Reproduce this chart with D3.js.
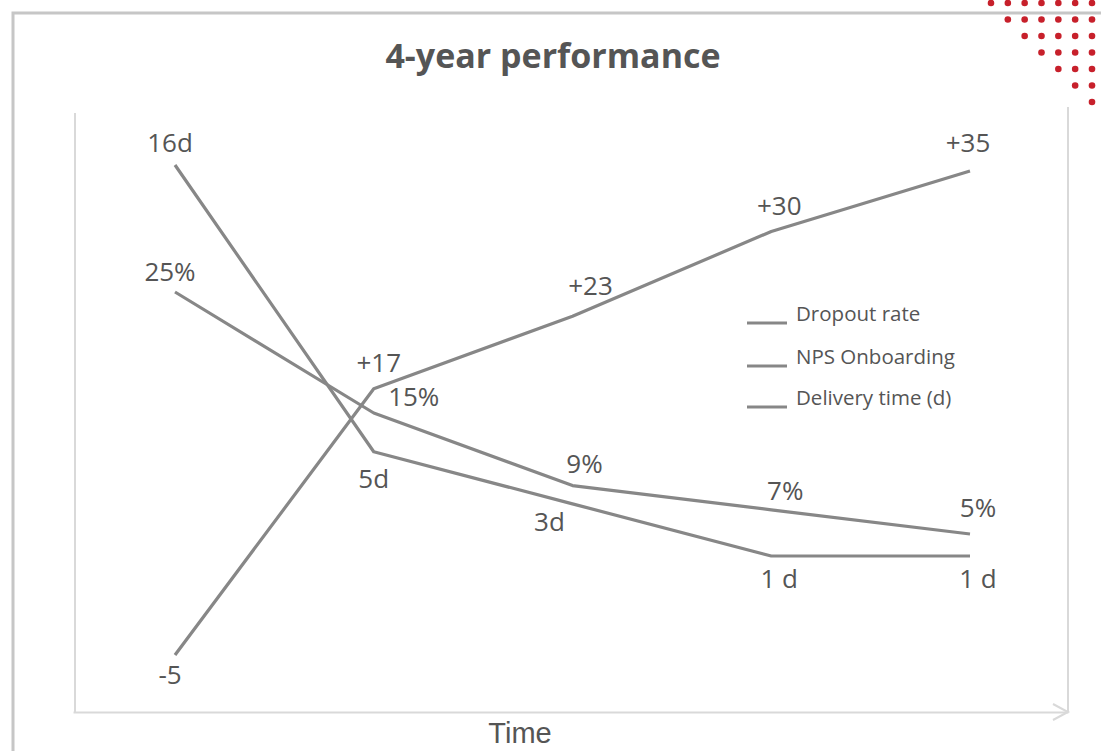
<!DOCTYPE html>
<html>
<head>
<meta charset="utf-8">
<script src="https://cdn.jsdelivr.net/npm/d3@7"></script>
<style>
  html, body { margin: 0; padding: 0; background: #fff; }
  svg { display: block; }
</style>
</head>
<body>
<svg id="chart" width="1101" height="751"></svg>
<script>
// Periods along the time axis (start + four yearly checkpoints)
const periods = ["Start", "Year 1", "Year 2", "Year 3", "Year 4"];

// Series values
const dropoutRate = [25, 15, 9, 7, 5];          // %
const npsOnboarding = [-5, 17, 23, 30, 35];     // NPS points
const deliveryTime = [16, 5, 3, 1, 1];          // days

// Legend entries
const seriesNames = ["Dropout rate", "NPS Onboarding", "Delivery time (d)"];

const W = 1101, H = 751;
const svg = d3.select("#chart");
const textColor = "#555";
const lineColor = "#878787";
const labelFont = "'Open Sans', 'Noto Sans', sans-serif";

// Outer card edge
svg.append("path")
  .attr("d", `M13,${H} L13,13 L${W},13`)
  .attr("fill", "none")
  .attr("stroke", "#c6c6c6")
  .attr("stroke-width", 3);

// Decorative red dot triangle in the top-right corner
const dotCols = d3.range(7), dotRows = d3.range(7);
const dots = [];
dotRows.forEach(r => dotCols.forEach(c => { if (c >= r) dots.push({ r, c }); }));
const dotX = d3.scaleLinear().domain([0, 6]).range([991, 1092]);
const dotY = d3.scaleLinear().domain([0, 6]).range([3, 102]);
svg.append("g").selectAll("circle").data(dots).join("circle")
  .attr("cx", d => dotX(d.c))
  .attr("cy", d => dotY(d.r))
  .attr("r", 3.3)
  .attr("fill", "#c7202b");

// Title
svg.append("text")
  .attr("x", 553).attr("y", 68)
  .attr("text-anchor", "middle")
  .attr("font-family", labelFont)
  .attr("font-weight", 700)
  .attr("font-size", 34)
  .attr("fill", textColor)
  .text("4-year performance");

// Scales: percentages and NPS share one vertical scale, delivery days use their own
const x = d3.scalePoint().domain(periods).range([175, 970]);
const yShared = d3.scaleLinear().domain([-5, 35]).range([655, 171]);
const yDays = d3.scaleLinear().domain([1, 16]).range([556, 165]);

// Plot frame
const frameColor = "#d9d9d9";
const axisScale = d3.scaleLinear().domain([0, 1]).range([73, 1068]);
const axisG = svg.append("g")
  .attr("transform", "translate(0,712)")
  .call(d3.axisBottom(axisScale).tickValues([]).tickSizeOuter(0));
axisG.select(".domain").attr("stroke", frameColor).attr("stroke-width", 2);
svg.append("path")
  .attr("d", "M1053,704 L1068,712 L1053,720")
  .attr("fill", "none").attr("stroke", frameColor).attr("stroke-width", 2);
svg.append("line").attr("x1", 75).attr("x2", 75).attr("y1", 113).attr("y2", 712)
  .attr("stroke", frameColor).attr("stroke-width", 2);
svg.append("line").attr("x1", 1068).attr("x2", 1068).attr("y1", 107).attr("y2", 712)
  .attr("stroke", frameColor).attr("stroke-width", 2);

// Axis title
svg.append("text")
  .attr("x", 520).attr("y", 743)
  .attr("text-anchor", "middle")
  .attr("font-family", "'Liberation Sans Narrow', 'Liberation Sans', sans-serif")
  .attr("font-size", 29)
  .attr("fill", textColor)
  .text("Time");

// Series definitions with label placement
const series = [
  { values: deliveryTime, y: yDays, fmt: v => (v === 1 ? "1 d" : v + "d"),
    off: [[-5, -13], [0, 36], [-23, 27], [8, 32], [8, 32]] },
  { values: dropoutRate, y: yShared, fmt: v => v + "%",
    off: [[-5, -11], [40, -7], [12, -13], [14, -10], [8, -17]] },
  { values: npsOnboarding, y: yShared, fmt: v => (v > 0 ? "+" + v : String(v)),
    off: [[-5, 29], [5, -17], [18, -21], [8, -17], [-2, -19]] }
];

series.forEach(s => {
  const pts = s.values.map((v, i) => ({ p: periods[i], v, i }));
  const line = d3.line().x(d => x(d.p)).y(d => s.y(d.v));
  svg.append("path")
    .datum(pts)
    .attr("d", line)
    .attr("fill", "none")
    .attr("stroke", lineColor)
    .attr("stroke-width", 3.2)
    .attr("stroke-linejoin", "round");
  svg.append("g").selectAll("text").data(pts).join("text")
    .attr("x", d => x(d.p) + s.off[d.i][0])
    .attr("y", d => s.y(d.v) + s.off[d.i][1])
    .attr("text-anchor", "middle")
    .attr("font-family", labelFont)
    .attr("font-size", 26)
    .attr("fill", textColor)
    .text(d => s.fmt(d.v));
});

// Legend
const legendY = [323, 366, 407];
const legend = svg.append("g").selectAll("g").data(seriesNames).join("g")
  .attr("transform", (d, i) => `translate(747,${legendY[i]})`);
legend.append("line")
  .attr("x1", 0).attr("x2", 40).attr("y1", 0).attr("y2", 0)
  .attr("stroke", lineColor).attr("stroke-width", 3.2);
legend.append("text")
  .attr("x", 49).attr("y", -2)
  .attr("font-family", labelFont)
  .attr("font-size", 20.5)
  .attr("fill", textColor)
  .text(d => d);
</script>
</body>
</html>
